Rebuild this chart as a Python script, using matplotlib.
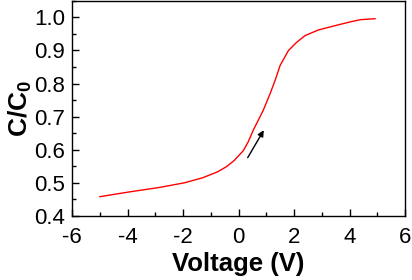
import matplotlib
matplotlib.use("Agg")
import matplotlib.pyplot as plt
from matplotlib.ticker import MultipleLocator

plt.rcParams['font.family'] = 'Liberation Sans'
plt.rcParams['axes.unicode_minus'] = False
plt.rcParams['mathtext.fontset'] = 'custom'
plt.rcParams['mathtext.bf'] = 'Liberation Sans:bold'
plt.rcParams['mathtext.rm'] = 'Liberation Sans:bold'

voltage = [-5.0, -3.97, -2.85, -1.95, -1.30, -0.76, -0.43, -0.15, 0.17, 0.35,
           0.53, 0.89, 1.14, 1.32, 1.50, 1.80, 2.10, 2.40, 2.88, 3.48,
           3.96, 4.38, 4.92]
cap_ratio = [0.458, 0.472, 0.486, 0.500, 0.515, 0.533, 0.549, 0.568, 0.597, 0.624,
             0.659, 0.719, 0.770, 0.810, 0.855, 0.900, 0.925, 0.945, 0.962, 0.975,
             0.985, 0.993, 0.996]

fig = plt.figure(figsize=(4.12, 2.8), dpi=100)
ax = fig.add_axes([0.175, 0.229, 0.808, 0.768])

ax.plot(voltage, cap_ratio, color='red', lw=1.0)
ax.annotate('', xy=(0.91, 0.659), xytext=(0.33, 0.576),
            arrowprops=dict(arrowstyle='-|>', color='black', lw=1.0,
                            mutation_scale=9, shrinkA=0, shrinkB=0))

ax.set_xlim(-6, 6)
ax.set_ylim(0.4, 1.05)
ax.xaxis.set_major_locator(MultipleLocator(2))
ax.xaxis.set_minor_locator(MultipleLocator(1))
ax.yaxis.set_major_locator(MultipleLocator(0.1))
ax.yaxis.set_minor_locator(MultipleLocator(0.05))
ax.tick_params(which='both', direction='in', labelsize=16, width=1)
ax.tick_params(axis='x', which='major', length=5, pad=8)
ax.tick_params(axis='y', which='major', length=5, pad=5)
ax.tick_params(which='minor', length=3)
ax.set_yticks([0.4, 0.5, 0.6, 0.7, 0.8, 0.9, 1.0])
ax.set_yticklabels(['0.4', '0.5', '0.6', '0.7', '0.8', '0.9', '1.0'])
for s in ax.spines.values():
    s.set_linewidth(1)

ax.set_xlabel('Voltage (V)', fontsize=18.5, fontweight='bold', labelpad=3)
ax.set_ylabel(r'$\mathbf{C/C_0}$', fontsize=19, labelpad=0)

fig.savefig('out.png', dpi=100)
